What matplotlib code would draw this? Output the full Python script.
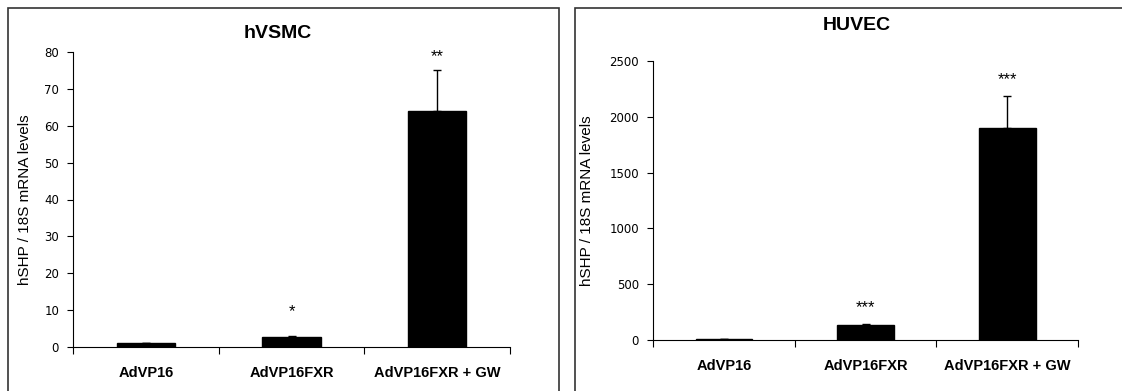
import matplotlib.pyplot as plt
from matplotlib.patches import Rectangle
import numpy as np

categories = ['AdVP16', 'AdVP16FXR', 'AdVP16FXR + GW']

vsmc_values = [1.0, 2.8, 64.0]
vsmc_errors = [0.1, 0.3, 11.0]
vsmc_stars = ['', '*', '**']

huvec_values = [10, 130, 1900]
huvec_errors = [2, 12, 290]
huvec_stars = ['', '***', '***']

W, H = 1122, 391
fig = plt.figure(figsize=(W / 100, H / 100), dpi=100)
plt.rcParams['font.family'] = ['Liberation Sans', 'DejaVu Sans']


def fx(px):
    return px / W


def fy(py):
    return 1 - py / H


# cornici dei due pannelli
for x0, x1 in [(8, 559), (575, 1130)]:
    fig.patches.append(Rectangle((fx(x0), fy(400)), fx(x1 - x0), (400 - 8) / H,
                                 transform=fig.transFigure, fill=False,
                                 edgecolor='#333333', linewidth=1.2))


def panel(ax_box, values, errors, stars, ymax, ystep, title, title_x, title_y, star_off):
    ax = fig.add_axes(ax_box)
    x = np.arange(len(categories)) + 0.5
    ax.bar(x, values, width=0.4, color='black', edgecolor='black')
    ax.errorbar(x, values, yerr=[np.zeros(len(errors)), errors], fmt='none',
                ecolor='black', elinewidth=1, capsize=3, capthick=1)
    for xi, v, e, s, off in zip(x, values, errors, stars, star_off):
        if s:
            ax.text(xi, v + e + off, s, ha='center', va='bottom', fontsize=12)
    ax.set_xlim(0, 3)
    ax.set_ylim(0, ymax)
    ax.set_yticks(np.arange(0, ymax + 1, ystep))
    ax.set_yticklabels([str(int(t)) for t in np.arange(0, ymax + 1, ystep)],
                       fontfamily='DejaVu Sans')
    ax.set_xticks([0, 1, 2, 3])
    ax.set_xticklabels([])
    ax.set_xticks(x, minor=True)
    ax.set_xticklabels(categories, minor=True, fontsize=10.5, fontweight='bold')
    ax.tick_params(axis='x', which='minor', length=0, pad=14)
    ax.tick_params(axis='x', which='major', length=5, direction='out', width=0.8)
    ax.tick_params(axis='y', length=4, direction='out', width=0.8, labelsize=8.5, pad=6)
    for sp in ['top', 'right']:
        ax.spines[sp].set_visible(False)
    ax.spines['left'].set_linewidth(0.8)
    ax.spines['bottom'].set_linewidth(0.8)
    ax.set_ylabel('hSHP / 18S mRNA levels', fontsize=11)
    fig.text(fx(title_x), fy(title_y), title, ha='center', va='center',
             fontsize=14, fontweight='bold')
    return ax


# sinistra: asse y x=73..510, y 52..347
ax1 = panel([fx(73), fy(347), fx(510 - 73), (347 - 52) / H], vsmc_values, vsmc_errors,
            vsmc_stars, 80, 10, 'hVSMC', 278, 33, [0, 4.5, 1.8])
# destra: asse y x=653..1078, y 61..340
ax2 = panel([fx(653), fy(340), fx(1078 - 653), (340 - 61) / H], huvec_values, huvec_errors,
            huvec_stars, 2500, 500, 'HUVEC', 857, 26, [0, 80, 80])

ax1.yaxis.set_label_coords(-0.094, 0.5)
ax2.yaxis.set_label_coords(-0.139, 0.5)

fig.savefig('out.png', dpi=100)
